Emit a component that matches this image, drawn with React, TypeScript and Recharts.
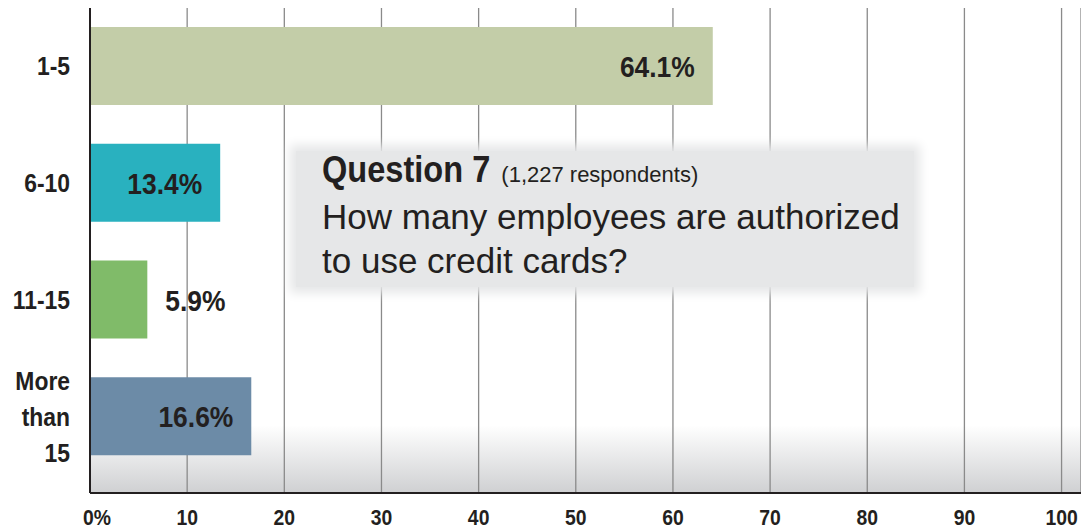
import { BarChart, Bar, XAxis, YAxis, CartesianGrid, Cell, LabelList } from 'recharts';

const categories = ['1-5', '6-10', '11-15', 'More than 15'];
const shares = [64.1, 13.4, 5.9, 16.6];
const barColors = ['#c3cda8', '#29b1bf', '#80bb69', '#6c8ba7'];
const xTicks = [0, 10, 20, 30, 40, 50, 60, 70, 80, 90, 100];

const data = categories.map((category, i) => ({ category, share: shares[i] }));

const INK = '#231f20';
const SANS = '"Liberation Sans", Arial, Helvetica, sans-serif';
// no narrow face installed, so squeeze the bold sans horizontally
const SQUEEZE = 0.88;

function Narrow({ x, y, anchor, size, children }: any) {
    return (
        <text
            transform={`translate(${x},${y}) scale(${SQUEEZE},1)`}
            textAnchor={anchor}
            fontFamily={SANS}
            fontWeight="bold"
            fontSize={size}
            fill={INK}
        >
            {children}
        </text>
    );
}

function CategoryTick(props: any) {
    const { x, y, payload } = props;
    const words: string[] = payload.value === 'More than 15' ? ['More', 'than', '15'] : [payload.value];
    const lineHeight = 36;
    const startY = y - ((words.length - 1) * lineHeight) / 2 + 9;
    return (
        <g>
            {words.map((w, i) => (
                <Narrow key={w} x={x} y={startY + i * lineHeight} anchor="end" size={26}>
                    {w}
                </Narrow>
            ))}
        </g>
    );
}

function PercentTick(props: any) {
    const { x, y, payload } = props;
    const isZero = payload.value === 0;
    return (
        <Narrow x={isZero ? x - 7 : x} y={y + 24} anchor={isZero ? 'start' : 'middle'} size={22}>
            {isZero ? '0%' : payload.value}
        </Narrow>
    );
}

function ShareLabel(props: any) {
    const { x, y, width, height, value } = props;
    const inside = width > 100;
    return (
        <Narrow
            x={inside ? x + width - 18 : x + width + 18}
            y={y + height / 2 + 11}
            anchor={inside ? 'end' : 'start'}
            size={30}
        >
            {value.toFixed(1)}%
        </Narrow>
    );
}

export default function App() {
    return (
        <div style={{ position: 'absolute', left: 0, top: 0, width: 1081, height: 531, background: '#fff' }}>
            <BarChart
                width={1081}
                height={531}
                data={data}
                layout="vertical"
                margin={{ top: 8, right: 0, bottom: 0, left: 0 }}
            >
                <defs>
                    <linearGradient id="floor" x1="0" y1="0" x2="0" y2="1">
                        <stop offset="0" stopColor="#ffffff" />
                        <stop offset="0.86" stopColor="#ffffff" />
                        <stop offset="1" stopColor="#cfd0d2" />
                    </linearGradient>
                </defs>
                <CartesianGrid horizontal={false} stroke="#8a8a8a" strokeWidth={1.3} fill="url(#floor)" />
                <XAxis
                    type="number"
                    domain={[0, 102]}
                    ticks={xTicks}
                    height={38}
                    tickLine={false}
                    axisLine={{ stroke: INK, strokeWidth: 2 }}
                    tick={<PercentTick />}
                    interval={0}
                />
                <YAxis
                    type="category"
                    dataKey="category"
                    width={90}
                    tickLine={false}
                    tickSize={0}
                    tickMargin={20}
                    axisLine={{ stroke: INK, strokeWidth: 2 }}
                    padding={{ top: 0, bottom: 18 }}
                    tick={<CategoryTick />}
                />
                <Bar dataKey="share" barSize={78} isAnimationActive={false}>
                    {data.map((d, i) => (
                        <Cell key={d.category} fill={barColors[i]} />
                    ))}
                    <LabelList dataKey="share" content={<ShareLabel />} />
                </Bar>
            </BarChart>
            <div
                style={{
                    position: 'absolute',
                    left: 296,
                    top: 151,
                    width: 618,
                    height: 136,
                    background: '#e6e7e8',
                    boxShadow: '0 0 10px 6px #e6e7e8',
                    color: INK,
                    fontFamily: SANS,
                }}
            >
                <div style={{ position: 'absolute', left: 26, top: 0, whiteSpace: 'nowrap', lineHeight: 1 }}>
                    <span
                        style={{
                            display: 'inline-block',
                            fontWeight: 'bold',
                            fontSize: 37,
                            transform: `scaleX(${SQUEEZE})`,
                            transformOrigin: 'left',
                            marginRight: -18,
                        }}
                    >
                        Question 7
                    </span>
                    <span style={{ fontSize: 22 }}> (1,227 respondents)</span>
                </div>
                <div style={{ position: 'absolute', left: 26, top: 44, fontSize: 35, lineHeight: '44px', whiteSpace: 'nowrap' }}>
                    How many employees are authorized
                    <br />
                    to use credit cards?
                </div>
            </div>
        </div>
    );
}
